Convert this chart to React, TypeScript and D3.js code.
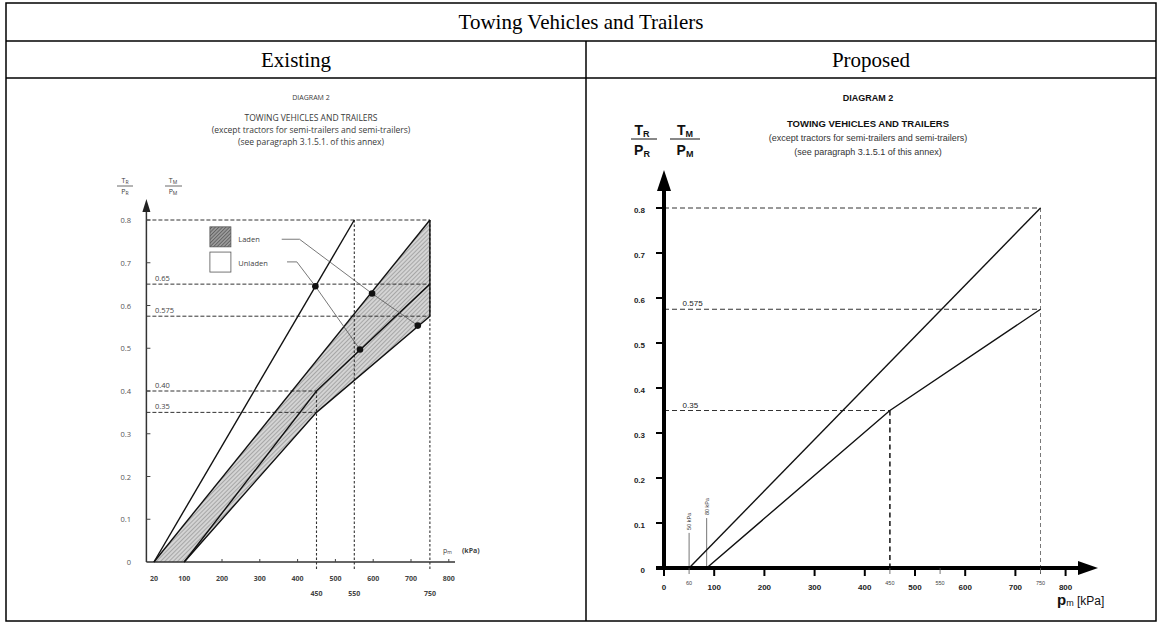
import React from "react";
import * as d3 from "d3";

type P = [number, number];

// ---------- table ----------
const tableTitle = "Towing Vehicles and Trailers";
const columnHeads = ["Existing", "Proposed"];

// ---------- Existing diagram ----------
const leftTitles = [
  "DIAGRAM 2",
  "TOWING VEHICLES AND TRAILERS",
  "(except tractors for semi-trailers and semi-trailers)",
  "(see paragraph 3.1.5.1. of this annex)",
];
const leftYTicks = [0, 0.1, 0.2, 0.3, 0.4, 0.5, 0.6, 0.7, 0.8];
const leftYTickLabels = ["0", "0.1", "0.2", "0.3", "0.4", "0.5", "0.6", "0.7", "0.8"];
const leftXTicks = [20, 100, 200, 300, 400, 500, 600, 700, 800];
const leftXTickLabels = ["20", "100", "200", "300", "400", "500", "600", "700", "800"];
const leftXMarks = [450, 550, 750];
const leftXMarkLabels = ["450", "550", "750"];
const steepLine: P[] = [[20, 0], [550, 0.8]];
const ladenUpper: P[] = [[20, 0], [750, 0.8]];
const ladenMiddle: P[] = [[100, 0], [450, 0.4], [750, 0.65]];
const ladenLower: P[] = [[100, 0], [450, 0.35], [750, 0.575]];
const leftLevels = [0.8, 0.65, 0.575, 0.4, 0.35];
const leftLevelEnds = [750, 750, 750, 450, 450];
const leftLevelLabels = ["", "0.65", "0.575", "0.40", "0.35"];
const leftVerticals = [450, 550, 750];
const leftVerticalTops = [0.4, 0.8, 0.8];
const unladenDots: P[] = [[447, 0.645], [565, 0.497]];
const ladenDots: P[] = [[597, 0.628], [718, 0.553]];
const legendLabels = ["Laden", "Unladen"];

// ---------- Proposed diagram ----------
const rightTitles = [
  "DIAGRAM 2",
  "TOWING VEHICLES AND TRAILERS",
  "(except tractors for semi-trailers and semi-trailers)",
  "(see paragraph 3.1.5.1 of this annex)",
];
const rightYTicks = [0, 0.1, 0.2, 0.3, 0.4, 0.5, 0.6, 0.7, 0.8];
const rightYTickLabels = ["0", "0.1", "0.2", "0.3", "0.4", "0.5", "0.6", "0.7", "0.8"];
const rightXTicks = [0, 100, 200, 300, 400, 500, 600, 700, 800];
const rightXTickLabels = ["0", "100", "200", "300", "400", "500", "600", "700", "800"];
const rightXMarks = [50, 450, 550, 750];
const rightXMarkLabels = ["60", "450", "550", "750"];
const lineA: P[] = [[50, 0], [750, 0.8]];
const lineB: P[] = [[85, 0], [450, 0.35], [750, 0.575]];
const rightLevels = [0.8, 0.575, 0.35];
const rightLevelEnds = [750, 750, 450];
const rightLevelLabels = ["", "0.575", "0.35"];
const rightMarkers = [50, 85];
const rightMarkerTops = [0.078, 0.111];
const rightMarkerLabels = ["50 kPa", "80 kPa"];

const SANS_L = "'Open Sans', 'DejaVu Sans', sans-serif";
const SANS_R = "'Liberation Sans', Arial, sans-serif";
const SERIF = "'Liberation Serif', 'Times New Roman', serif";

export default function App() {
  // layout
  const tL = 6, tR = 1156, tT = 3, tB = 621, r1 = 41, r2 = 78, mid = 586;

  // Existing scales
  const xL = d3.scaleLinear().domain([0, 800]).range([146.4, 448.8]);
  const yL = d3.scaleLinear().domain([0, 0.8]).range([562, 220]);
  const lineL = d3.line<P>().x((d) => xL(d[0])).y((d) => yL(d[1]));
  const band: P[] = [...ladenUpper, ...ladenLower.slice().reverse()];

  // Proposed scales
  const xR = d3.scaleLinear().domain([0, 800]).range([664, 1065.6]);
  const yR = d3.scaleLinear().domain([0, 0.8]).range([568, 208]);
  const lineR = d3.line<P>().x((d) => xR(d[0])).y((d) => yR(d[1]));

  const leftCx = 311;
  const rightCx = 868;
  const lAxisX = xL(0);
  const rAxisX = xR(0);

  return (
    <div style={{ position: "absolute", left: 0, top: 0 }}>
      <svg width={1161} height={623} style={{ display: "block", background: "#fff" }}>
        <defs>
          <pattern id="hatchBand" width="3" height="3" patternUnits="userSpaceOnUse" patternTransform="rotate(45)">
            <rect width="3" height="3" fill="#d4d4d4" />
            <line x1="0" y1="0" x2="0" y2="3" stroke="#7a7a7a" strokeWidth="1" />
          </pattern>
          <pattern id="hatchDark" width="2.5" height="2.5" patternUnits="userSpaceOnUse" patternTransform="rotate(45)">
            <rect width="2.5" height="2.5" fill="#999" />
            <line x1="0" y1="0" x2="0" y2="2.5" stroke="#3a3a3a" strokeWidth="1" />
          </pattern>
        </defs>

        {/* ---------- table ---------- */}
        <rect x={tL} y={tT} width={tR - tL} height={tB - tT} fill="none" stroke="#000" strokeWidth={1.5} />
        <line x1={tL} x2={tR} y1={r1} y2={r1} stroke="#000" strokeWidth={1.5} />
        <line x1={tL} x2={tR} y1={r2} y2={r2} stroke="#000" strokeWidth={1.5} />
        <line x1={mid} x2={mid} y1={r1} y2={tB} stroke="#000" strokeWidth={1.5} />
        <text x={(tL + tR) / 2} y={29} textAnchor="middle" fontFamily={SERIF} fontSize={21}>{tableTitle}</text>
        <text x={(tL + mid) / 2} y={67} textAnchor="middle" fontFamily={SERIF} fontSize={21}>{columnHeads[0]}</text>
        <text x={(mid + tR) / 2} y={67} textAnchor="middle" fontFamily={SERIF} fontSize={21}>{columnHeads[1]}</text>

        {/* ---------- Existing diagram ---------- */}
        <g fontFamily={SANS_L} fill="#3a3a3a">
          <text x={leftCx} y={100} textAnchor="middle" fontSize={7}>{leftTitles[0]}</text>
          <text x={leftCx} y={121} textAnchor="middle" fontSize={8.5}>{leftTitles[1]}</text>
          <text x={leftCx} y={133} textAnchor="middle" fontSize={8.5}>{leftTitles[2]}</text>
          <text x={leftCx} y={145} textAnchor="middle" fontSize={8.5}>{leftTitles[3]}</text>

          {/* axis fraction labels */}
          <text x={125} y={183} textAnchor="middle" fontSize={7}>T<tspan fontSize={5} dy={1}>R</tspan></text>
          <line x1={117} x2={133} y1={186} y2={186} stroke="#444" strokeWidth={0.8} />
          <text x={125} y={194} textAnchor="middle" fontSize={7}>P<tspan fontSize={5} dy={1}>R</tspan></text>
          <text x={173} y={183} textAnchor="middle" fontSize={7}>T<tspan fontSize={5} dy={1}>M</tspan></text>
          <line x1={165} x2={182} y1={186} y2={186} stroke="#444" strokeWidth={0.8} />
          <text x={173} y={194} textAnchor="middle" fontSize={7}>P<tspan fontSize={5} dy={1}>M</tspan></text>
        </g>

        {/* band */}
        <path d={lineL(band) + "Z"} fill="url(#hatchBand)" stroke="none" />

        {/* dashed reference levels */}
        {leftLevels.map((v, i) => (
          <line key={"ll" + i} x1={lAxisX} x2={xL(leftLevelEnds[i])} y1={yL(v)} y2={yL(v)}
            stroke="#333" strokeWidth={1} strokeDasharray="4,2" />
        ))}
        {leftVerticals.map((v, i) => (
          <line key={"lv" + i} x1={xL(v)} x2={xL(v)} y1={yL(leftVerticalTops[i])} y2={yL(0) + 7}
            stroke="#333" strokeWidth={1.1} strokeDasharray="2.5,2" />
        ))}
        {leftLevelLabels.map((t, i) => t ? (
          <text key={"llt" + i} x={155} y={yL(leftLevels[i]) - 3} fontFamily={SANS_L} fontSize={7.5} fill="#444">{t}</text>
        ) : null)}

        {/* axes */}
        <line x1={lAxisX} x2={lAxisX} y1={yL(0)} y2={210} stroke="#333" strokeWidth={1.5} />
        <path d={`M${lAxisX},199 L${lAxisX - 4},212 L${lAxisX + 4},212 Z`} fill="#222" />
        <line x1={lAxisX} x2={455} y1={yL(0)} y2={yL(0)} stroke="#333" strokeWidth={1.5} />
        {leftYTicks.map((v, i) => (
          <g key={"lyt" + i}>
            {v > 0 && <line x1={lAxisX} x2={lAxisX + 4} y1={yL(v)} y2={yL(v)} stroke="#444" strokeWidth={1} />}
            <text x={131} y={yL(v) + 3} textAnchor="end" fontFamily={SANS_L} fontSize={7.5} fill="#555">{leftYTickLabels[i]}</text>
          </g>
        ))}
        {leftXTicks.map((v, i) => (
          <g key={"lxt" + i}>
            {v >= 200 && <line x1={xL(v)} x2={xL(v)} y1={yL(0)} y2={yL(0) - 3} stroke="#444" strokeWidth={1} />}
            <text x={xL(v)} y={581} textAnchor="middle" fontFamily={SANS_L} fontSize={7} fontWeight="bold" fill="#444">{leftXTickLabels[i]}</text>
          </g>
        ))}
        {leftXMarks.map((v, i) => (
          <text key={"lxm" + i} x={xL(v)} y={596} textAnchor="middle" fontFamily={SANS_L} fontSize={7} fontWeight="bold" fill="#444">{leftXMarkLabels[i]}</text>
        ))}
        <text x={443} y={553} fontFamily={SANS_L} fontSize={7} fill="#444">p<tspan fontSize={5} dy={1}>m</tspan></text>
        <text x={462} y={553} fontFamily={SANS_L} fontSize={7} fontWeight="bold" fill="#444">(kPa)</text>

        {/* lines */}
        <path d={lineL(steepLine)!} fill="none" stroke="#111" strokeWidth={1.4} />
        <path d={lineL(ladenUpper)!} fill="none" stroke="#111" strokeWidth={1.4} />
        <path d={lineL(ladenMiddle)!} fill="none" stroke="#111" strokeWidth={1.4} />
        <path d={lineL(ladenLower)!} fill="none" stroke="#111" strokeWidth={1.4} />
        <line x1={xL(750)} x2={xL(750)} y1={yL(0.8)} y2={yL(0.575)} stroke="#111" strokeWidth={1.4} />

        {/* legend */}
        <rect x={xL(168)} y={yL(0.784)} width={21} height={20} fill="url(#hatchDark)" stroke="#555" strokeWidth={0.8} />
        <rect x={xL(168)} y={yL(0.725)} width={21} height={20} fill="#fff" stroke="#555" strokeWidth={0.8} />
        <text x={xL(243)} y={yL(0.755) + 3} fontFamily={SANS_L} fontSize={7.5} fill="#444">{legendLabels[0]}</text>
        <text x={xL(243)} y={yL(0.7) + 3} fontFamily={SANS_L} fontSize={7.5} fill="#444">{legendLabels[1]}</text>

        {/* leaders */}
        <path d={lineL([[358, 0.755], [405, 0.755], ...ladenDots])!} fill="none" stroke="#555" strokeWidth={0.8} />
        <path d={lineL([[372, 0.702], [398, 0.702], ...unladenDots])!} fill="none" stroke="#555" strokeWidth={0.8} />
        {[...ladenDots, ...unladenDots].map((d, i) => (
          <circle key={"dot" + i} cx={xL(d[0])} cy={yL(d[1])} r={3.3} fill="#111" />
        ))}

        {/* ---------- Proposed diagram ---------- */}
        <g fontFamily={SANS_R} fill="#111">
          <text x={rightCx} y={101} textAnchor="middle" fontSize={9} fontWeight="bold">{rightTitles[0]}</text>
          <text x={rightCx} y={126.5} textAnchor="middle" fontSize={9.5} fontWeight="bold">{rightTitles[1]}</text>
          <text x={rightCx} y={140.5} textAnchor="middle" fontSize={9} fill="#333">{rightTitles[2]}</text>
          <text x={rightCx} y={155} textAnchor="middle" fontSize={9} fill="#333">{rightTitles[3]}</text>

          <text x={642} y={135} textAnchor="middle" fontSize={14} fontWeight="bold">T<tspan fontSize={9} dy={2}>R</tspan></text>
          <line x1={631} x2={657} y1={139} y2={139} stroke="#111" strokeWidth={1} />
          <text x={642} y={155} textAnchor="middle" fontSize={14} fontWeight="bold">P<tspan fontSize={9} dy={2}>R</tspan></text>
          <text x={685} y={135} textAnchor="middle" fontSize={14} fontWeight="bold">T<tspan fontSize={9} dy={2}>M</tspan></text>
          <line x1={670} x2={700} y1={139} y2={139} stroke="#111" strokeWidth={1} />
          <text x={685} y={155} textAnchor="middle" fontSize={14} fontWeight="bold">P<tspan fontSize={9} dy={2}>M</tspan></text>
        </g>

        {/* dashed levels */}
        {rightLevels.map((v, i) => (
          <line key={"rl" + i} x1={rAxisX} x2={xR(rightLevelEnds[i])} y1={yR(v)} y2={yR(v)}
            stroke="#333" strokeWidth={1} strokeDasharray="5,3" />
        ))}
        {rightLevelLabels.map((t, i) => t ? (
          <text key={"rlt" + i} x={xR(37)} y={yR(rightLevels[i]) - 3} fontFamily={SANS_R} fontSize={8} fill="#222">{t}</text>
        ) : null)}
        <line x1={xR(450)} x2={xR(450)} y1={yR(0.35)} y2={yR(0)} stroke="#222" strokeWidth={1.6} strokeDasharray="5,3.5" />
        <line x1={xR(750)} x2={xR(750)} y1={yR(0.8)} y2={yR(0) + 6} stroke="#555" strokeWidth={0.8} strokeDasharray="4,3" />

        {/* markers */}
        {rightMarkers.map((v, i) => (
          <g key={"rm" + i}>
            <line x1={xR(v)} x2={xR(v)} y1={yR(0)} y2={yR(rightMarkerTops[i])} stroke="#666" strokeWidth={0.9} />
            <text transform={`translate(${xR(v) + 2},${yR(rightMarkerTops[i]) - 3}) rotate(-90)`}
              fontFamily={SANS_R} fontSize={5.5} fill="#333">{rightMarkerLabels[i]}</text>
          </g>
        ))}

        {/* lines */}
        <path d={lineR(lineA)!} fill="none" stroke="#111" strokeWidth={1.4} />
        <path d={lineR(lineB)!} fill="none" stroke="#111" strokeWidth={1.4} />

        {/* axes */}
        <line x1={rAxisX} x2={rAxisX} y1={yR(0) + 2} y2={188} stroke="#000" strokeWidth={4} />
        <path d={`M${rAxisX},170 L${rAxisX - 7},191 L${rAxisX + 7},191 Z`} fill="#000" />
        <line x1={rAxisX - 8} x2={1082} y1={yR(0)} y2={yR(0)} stroke="#000" strokeWidth={4} />
        <path d={`M1098,${yR(0)} L1078,${yR(0) - 7} L1078,${yR(0) + 7} Z`} fill="#000" />
        {rightYTicks.map((v, i) => (
          <g key={"ryt" + i}>
            <line x1={rAxisX - 8} x2={rAxisX} y1={yR(v)} y2={yR(v)} stroke="#000" strokeWidth={2} />
            <text x={645} y={yR(v) + 5} textAnchor="end" fontFamily={SANS_R} fontSize={8} fontWeight="bold" fill="#222">{rightYTickLabels[i]}</text>
          </g>
        ))}
        {rightXTicks.map((v, i) => (
          <g key={"rxt" + i}>
            <line x1={xR(v)} x2={xR(v)} y1={yR(0)} y2={yR(0) + 8} stroke="#000" strokeWidth={2} />
            <text x={xR(v)} y={590} textAnchor="middle" fontFamily={SANS_R} fontSize={8} fontWeight="bold" fill="#222">{rightXTickLabels[i]}</text>
          </g>
        ))}
        {rightXMarks.map((v, i) => (
          <g key={"rxm" + i}>
            <line x1={xR(v)} x2={xR(v)} y1={yR(0)} y2={yR(0) + 6} stroke="#555" strokeWidth={0.8} />
            <text x={xR(v)} y={585} textAnchor="middle" fontFamily={SANS_R} fontSize={5.5} fill="#444">{rightXMarkLabels[i]}</text>
          </g>
        ))}
        <text x={1057} y={605} fontFamily={SANS_R} fill="#111">
          <tspan fontSize={15} fontWeight="bold">p</tspan>
          <tspan fontSize={9} dy={1}>m</tspan>
          <tspan fontSize={12} dy={-1}> [kPa]</tspan>
        </text>
      </svg>
    </div>
  );
}
